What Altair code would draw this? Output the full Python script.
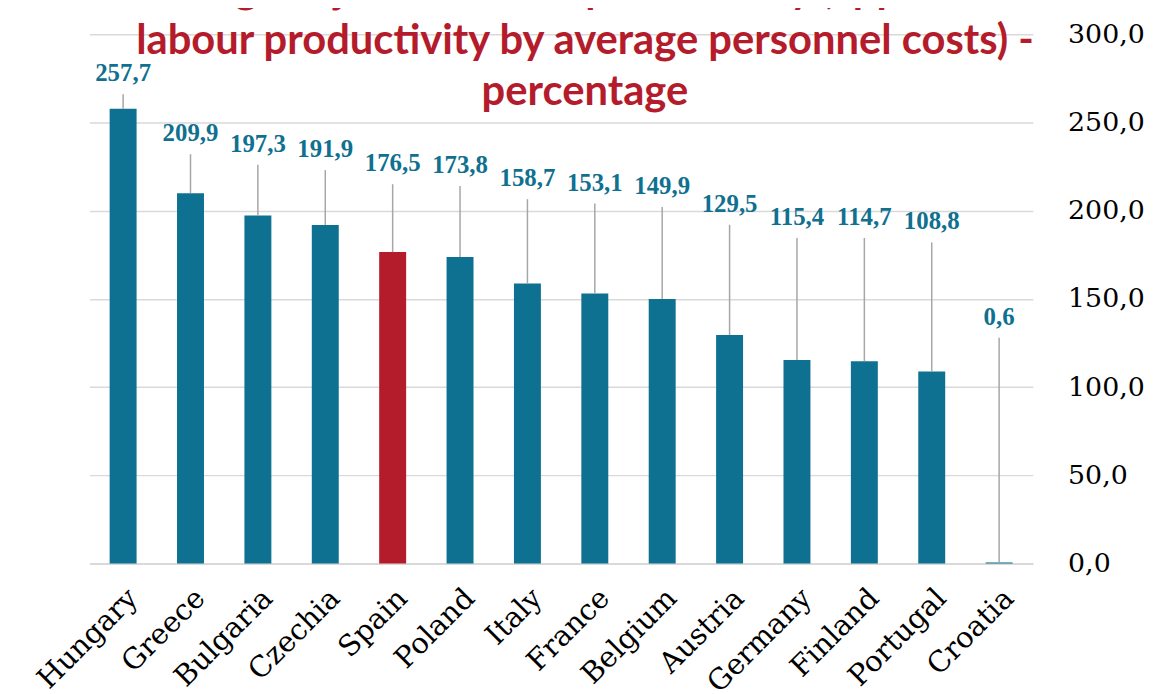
import altair as alt
import pandas as pd

countries = ["Hungary", "Greece", "Bulgaria", "Czechia", "Spain", "Poland", "Italy",
             "France", "Belgium", "Austria", "Germany", "Finland", "Portugal", "Croatia"]
values = [257.7, 209.9, 197.3, 191.9, 176.5, 173.8, 158.7, 153.1, 149.9, 129.5,
          115.4, 114.7, 108.8, 0.6]
# top end of each label's leader line (value units)
leader_top = [266.0, 232.0, 226.0, 223.0, 215.0, 214.0, 206.5, 204.0, 202.0, 192.0,
              184.5, 184.5, 182.0, 128.0]
highlight = ["Spain"]
title_lines = ["Wage adjusted labour productivity (apparent",
               "labour productivity by average personnel costs) -",
               "percentage"]
y_ticks = [0, 50, 100, 150, 200, 250, 300]

df = pd.DataFrame({"country": countries, "value": values, "top": leader_top})
df["hl"] = df["country"].isin(highlight)

TEAL = "#0F7191"
RED = "#B41C2C"

x = alt.X("country:N", sort=countries,
          scale=alt.Scale(paddingInner=0.6, paddingOuter=0.3),
          axis=alt.Axis(title=None, labelAngle=-45, labelAlign="right", labelBaseline="top",
                        labelPadding=20, ticks=False, domain=True, domainColor="#D9D9D9",
                        domainWidth=2, labelFont="DejaVu Serif", labelFontSize=29,
                        labelColor="#000000", grid=False))

base = alt.Chart(df).transform_calculate(
    label="replace(format(datum.value, '.1f'), '.', ',')"
)

bars = base.mark_bar().encode(
    x=x,
    y=alt.Y("value:Q", scale=alt.Scale(domain=[0, 300], nice=False),
            axis=alt.Axis(title=None, orient="right", values=y_ticks, grid=True,
                          gridColor="#D9D9D9", gridWidth=1.5, domain=False, ticks=False,
                          labelPadding=35, labelFont="DejaVu Serif", labelFontSize=27,
                          labelColor="#000000",
                          labelExpr="replace(format(datum.value, '.1f'), '.', ',')")),
    color=alt.Color("hl:N", scale=alt.Scale(domain=[False, True], range=[TEAL, RED]),
                    legend=None),
)

rules = base.mark_rule(color="#A6A6A6", strokeWidth=1.5).encode(
    x=x, y=alt.Y("top:Q"), y2=alt.Y2("value:Q")
)

labels = base.mark_text(font="Liberation Serif", fontWeight="bold", fontSize=25,
                        color="#10708F", baseline="middle", dy=-21).encode(
    x=x, y=alt.Y("top:Q"), text="label:N"
)

chart = alt.layer(bars, rules, labels).properties(
    width=950, height=533,
    title=alt.Title(title_lines, font="Lato", fontSize=42, fontWeight="bold",
                    color="#B41C2C", anchor="middle", frame="group", dx=24, dy=136,
                    offset=0, lineHeight=51, baseline="bottom"),
    autosize=alt.AutoSizeParams(type="none"),
    padding={"left": 82, "top": 24, "right": 116, "bottom": 129},
    background="white",
).configure_view(stroke=None)

chart.save("out.html", embed_options={"renderer": "svg", "actions": False})
